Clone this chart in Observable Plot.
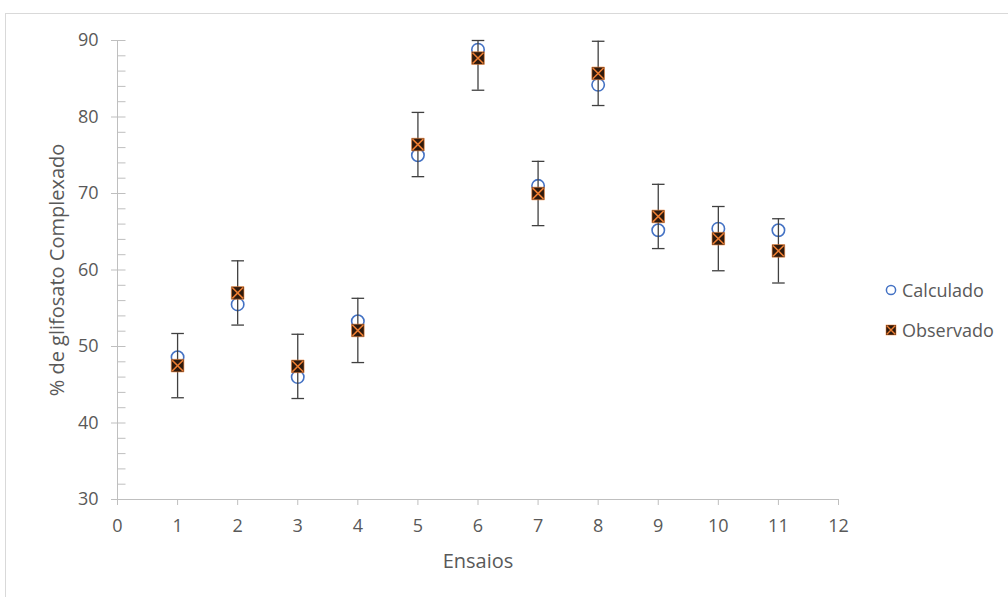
<!DOCTYPE html>
<html>
<head>
<meta charset="utf-8">
<script src="https://cdn.jsdelivr.net/npm/d3@7"></script>
<script src="https://cdn.jsdelivr.net/npm/@observablehq/plot@0.6"></script>
<style>
  html, body { margin: 0; padding: 0; background: #fff; }
  body { width: 1008px; height: 597px; position: relative; overflow: hidden; font-family: 'Open Sans', sans-serif; }
  #chart { position: absolute; left: 0; top: 0; }
  #border { position: absolute; left: 5px; top: 13px; width: 1010px; height: 600px; border: 1px solid #d9d9d9; box-sizing: border-box; pointer-events: none; }
  .leg { position: absolute; left: 884px; height: 24px; display: flex; align-items: center; font-size: 18px; color: #595959; }
  .leg svg { margin-right: 4px; }
</style>
</head>
<body>
<div id="border"></div>
<div id="chart"></div>
<div class="leg" style="top:278px">
  <svg width="14" height="14"><circle cx="7" cy="7" r="4.6" fill="none" stroke="#4472C4" stroke-width="1.5"/></svg>Calculado
</div>
<div class="leg" style="top:318px">
  <svg width="14" height="14"><rect x="2" y="2" width="10" height="10" fill="#2e1a0e" stroke="#ED7D31" stroke-width="0.5"/><path d="M2.8,2.8L11.2,11.2M11.2,2.8L2.8,11.2" stroke="#ED7D31" stroke-width="1.4"/></svg>Observado
</div>
<script>
// ---- data ----
const ensaios = [1, 2, 3, 4, 5, 6, 7, 8, 9, 10, 11];
const calculado = [48.6, 55.5, 46.0, 53.3, 75.0, 88.8, 71.0, 84.2, 65.2, 65.4, 65.2];
const observado = [47.5, 57.0, 47.4, 52.1, 76.4, 87.7, 70.0, 85.7, 67.0, 64.1, 62.5];
const erro = [4.2, 4.2, 4.2, 4.2, 4.2, 4.2, 4.2, 4.2, 4.2, 4.2, 4.2];
const xTicks = [0, 1, 2, 3, 4, 5, 6, 7, 8, 9, 10, 11, 12];
const yTicks = [30, 40, 50, 60, 70, 80, 90];
const yMinorTicks = [32, 34, 36, 38, 40, 42, 44, 46, 48, 50, 52, 54, 56, 58, 60, 62, 64, 66, 68, 70, 72, 74, 76, 78, 80, 82, 84, 86, 88, 90];
const xTitle = "Ensaios";
const yTitle = "% de glifosato Complexado";

const yMin = 30, yMax = 90;
const rows = ensaios.map((e, i) => ({
  x: e,
  calc: calculado[i],
  obs: observado[i],
  lo: Math.max(yMin, observado[i] - erro[i]),
  hi: Math.min(yMax, observado[i] + erro[i])
}));

// custom symbols
const tickRight = { draw(c) { c.moveTo(0, 0); c.lineTo(8, 0); } };
const capSym = { draw(c) { c.moveTo(-6.3, 0); c.lineTo(6.3, 0); } };
const squareSym = { draw(c) { c.rect(-6.3, -6.3, 12.6, 12.6); } };
const crossSym = { draw(c) { c.moveTo(-5.4, -5.4); c.lineTo(5.4, 5.4); c.moveTo(5.4, -5.4); c.lineTo(-5.4, 5.4); } };

const axisGray = "#bfbfbf";
const textGray = "#595959";

const chart = Plot.plot({
  width: 1008,
  height: 597,
  marginLeft: 117,
  marginRight: 170,
  marginTop: 40,
  marginBottom: 98,
  style: { fontFamily: "'Open Sans', sans-serif", background: "transparent" },
  x: { domain: [0, 12] },
  y: { domain: [yMin, yMax] },
  marks: [
    Plot.ruleY([yMin], { stroke: axisGray, strokeWidth: 1 }),
    Plot.ruleX([0], { stroke: axisGray, strokeWidth: 1 }),
    Plot.axisX({ ticks: xTicks, tickSize: 6, tickPadding: 14, stroke: axisGray, fill: textGray, fontSize: 18, label: null, tickFormat: d => String(d) }),
    Plot.axisY({ ticks: yTicks, tickSize: 6, tickPadding: 13, stroke: axisGray, fill: textGray, fontSize: 18, label: null, tickFormat: d => String(d) }),
    Plot.dot(yMinorTicks, { y: d => d, frameAnchor: "left", symbol: tickRight, stroke: axisGray, fill: "none", strokeWidth: 1 }),
    Plot.text([yTitle], { text: d => d, frameAnchor: "left", textAnchor: "middle", dx: -60, rotate: -90, fontSize: 20, fill: textGray }),
    Plot.text([xTitle], { text: d => d, frameAnchor: "bottom", dy: 68, fontSize: 20, fill: textGray }),
    // Calculado
    Plot.dot(rows, { x: "x", y: "calc", r: 6.2, fill: "none", stroke: "#4472C4", strokeWidth: 1.6 }),
    // error bars (Observado)
    Plot.ruleX(rows, { x: "x", y1: "lo", y2: "hi", stroke: "#404040", strokeWidth: 1.3 }),
    Plot.dot(rows, { x: "x", y: "hi", symbol: capSym, stroke: "#404040", fill: "none", strokeWidth: 1.3 }),
    Plot.dot(rows, { x: "x", y: "lo", symbol: capSym, stroke: "#404040", fill: "none", strokeWidth: 1.3 }),
    // Observado
    Plot.dot(rows, { x: "x", y: "obs", symbol: squareSym, fill: "#2e1a0e", stroke: "#ED7D31", strokeWidth: 0.6 }),
    Plot.dot(rows, { x: "x", y: "obs", symbol: crossSym, fill: "none", stroke: "#ED7D31", strokeWidth: 1.6 })
  ]
});
document.getElementById("chart").appendChild(chart);
</script>
</body>
</html>
